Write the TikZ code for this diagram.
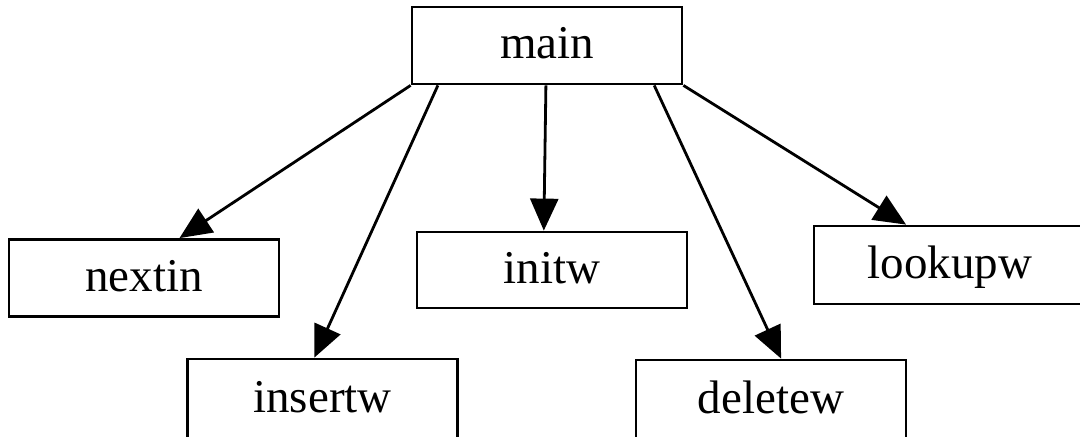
\documentclass[tikz,border=0pt]{standalone}
\usepackage{fontspec}
\setmainfont{Liberation Serif}
\usetikzlibrary{arrows.meta,calc}
\begin{document}
\begin{tikzpicture}[x=0.5pt,y=-0.5pt,
  box/.style={draw,line width=1.4pt,inner sep=0pt,minimum width=135pt,minimum height=38.5pt,
    font=\fontsize{23.5}{28}\selectfont,text height=16pt,text depth=3pt},
  edge/.style={line width=1.4pt,-{Triangle[length=16pt,width=14pt]}}]
\useasboundingbox (0,0) rectangle (1080,436);
\clip (0,0) rectangle (1080,436);
\node[box] (main) at (547,45.5) {main};
\node[box] (nextin) at (144,278) {nextin};
\node[box,minimum height=40pt] (insertw) at (322.5,399) {insertw};
\node[box,minimum height=38pt] (initw) at (552,270) {initw};
\node[box,minimum width=136pt,minimum height=39pt] (lookupw) at (950,265) {lookupw};
\node[box,minimum height=40pt] (deletew) at (771,400) {deletew};
\draw[edge] (main.south west) -- ($(nextin.north west)!0.63!(nextin.north east)$);
\draw[edge] ($(main.south west)!0.1!(main.south east)$) -- ($(insertw.north west)!0.47!(insertw.north east)$);
\draw[edge] ($(main.south west)!0.496!(main.south east)$) -- ($(initw.north west)!0.47!(initw.north east)$);
\draw[edge] ($(main.south west)!0.893!(main.south east)$) -- ($(deletew.north west)!0.537!(deletew.north east)$);
\draw[edge] (main.south east) -- ($(lookupw.north west)!0.34!(lookupw.north east)$);
\end{tikzpicture}
\end{document}
